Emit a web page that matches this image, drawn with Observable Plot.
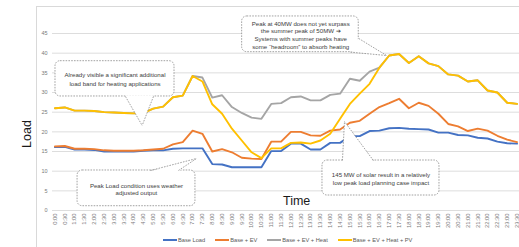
<!DOCTYPE html>
<html><head><meta charset="utf-8">
<script src="https://cdn.jsdelivr.net/npm/d3@7"></script>
<script src="https://cdn.jsdelivr.net/npm/@observablehq/plot@0.6"></script>
<style>
body{margin:0;background:#fff;font-family:"Liberation Sans",Arial,sans-serif;}
#wrap{position:relative;width:519px;height:247px;overflow:hidden;background:#fff;}
#chart{position:absolute;left:0;top:0;}
#frame{position:absolute;left:36px;top:6px;width:540px;height:300px;border:1px solid #d9d9d9;pointer-events:none;}
#legend{position:absolute;left:163px;top:234px;height:11px;display:flex;gap:10px;align-items:center;font-size:5.7px;color:#595959;white-space:nowrap;}
#legend .item{display:flex;align-items:center;}
#legend .sw{width:14px;height:2px;margin-right:1px;}
</style></head><body>
<div id="wrap"><div id="chart"></div><div id="legend"></div><div id="frame"></div></div>
<script>
// ---- data ----
const times = ["0:00","0:30","1:00","1:30","2:00","2:30","3:00","3:30","4:00","4:30","5:00","5:30",
  "6:00","6:30","7:00","7:30","8:00","8:30","9:00","9:30","10:00","10:30","11:00","11:30",
  "12:00","12:30","13:00","13:30","14:00","14:30","15:00","15:30","16:00","16:30","17:00","17:30",
  "18:00","18:30","19:00","19:30","20:00","20:30","21:00","21:30","22:00","22:30","23:00","23:30"];
const seriesNames = ["Base Load","Base + EV","Base + EV + Heat","Base + EV + Heat + PV"];
const baseLoad = [16.1,16.2,15.5,15.5,15.4,15.0,15.0,15.0,15.0,15.2,15.3,15.3,15.7,15.8,15.8,15.8,11.8,11.7,11.0,11.0,11.0,11.0,15.1,15.1,17.0,17.0,15.5,15.5,17.2,17.2,18.9,18.9,20.2,20.3,20.9,21.0,20.8,20.7,20.6,19.8,19.8,19.2,19.1,18.5,18.3,17.5,17.1,17.0];
const baseEV = [16.3,16.4,15.7,15.7,15.6,15.3,15.2,15.2,15.2,15.3,15.5,15.7,16.8,17.4,20.3,19.5,15.0,15.6,14.8,13.4,13.2,13.1,17.5,17.5,20.0,20.0,19.1,19.0,20.3,20.6,22.3,22.8,24.6,26.3,27.3,28.4,26.0,27.4,26.6,24.6,22.0,21.4,20.2,20.8,20.3,19.0,18.0,17.4];
const baseEVHeat = [26.0,26.2,25.4,25.4,25.3,25.0,24.9,24.8,24.7,24.8,25.9,26.4,28.8,29.2,34.2,33.8,28.7,29.3,26.3,24.8,23.6,23.3,27.1,27.3,28.8,29.0,28.0,28.0,29.4,29.7,33.5,33.0,35.3,36.3,39.4,39.8,37.5,39.2,37.4,36.7,34.6,34.3,32.8,33.1,30.5,30.0,27.4,27.1];
const baseEVHeatPV = [26.0,26.2,25.4,25.4,25.3,25.0,24.9,24.8,24.7,24.8,25.9,26.4,28.8,29.2,34.2,32.8,27.0,24.6,20.8,17.8,14.8,13.3,15.8,15.8,17.2,17.3,17.0,17.8,19.5,23.3,27.1,29.7,32.2,36.3,39.4,39.8,37.5,39.2,37.4,36.7,34.6,34.3,32.8,33.1,30.5,30.0,27.4,27.1];
const yTicks = [0,5,10,15,20,25,30,35,40,45];
const palette = ["#4472C4","#ED7D31","#A5A5A5","#FFC000"];

// ---- annotations (data units) ----
const notes = [
  {text:"Already visible a significant additional\nload band for heating applications",
   x1:0.055,x2:12.16,y1:28.99,y2:37.96,cx:6.11,cy:33.52,lh:1.38,
   base:[[7.17,28.99],[10.02,28.99]],fillBase:[[7.17,29.3],[10.02,29.3]],tip:[8.87,21.61]},
  {text:"Peak at 40MW does not yet surpass\nthe summer peak of 50MW \u2794\nSystems with summer peaks have\nsome \u201Cheadroom\u201D to absorb heating",
   x1:19.04,x2:30.90,y1:40.25,y2:49.33,cx:25.0,cy:44.7,lh:1.25,
   base:[[30.90,43.73],[30.06,40.25]],fillBase:[[30.80,43.73],[30.06,40.45]],tip:[33.72,39.41]},
  {text:"Peak Load condition uses weather\nadjusted output",
   x1:2.30,x2:14.29,y1:1.09,y2:10.17,cx:8.29,cy:5.47,lh:1.3,
   base:[[9.71,10.17],[12.56,10.17]],fillBase:[[9.71,9.9],[12.56,9.9]],tip:[14.40,13.22]},
  {text:"145 MW of solar result in a relatively\nlow peak load planning case impact",
   x1:27.21,x2:39.11,y1:3.81,y2:12.71,cx:33.16,cy:8.26,lh:1.38,
   base:[[29.24,12.71],[32.39,12.71]],fillBase:[[29.24,12.45],[32.39,12.45]],tip:[29.45,22.63]}
];

const values = [baseLoad, baseEV, baseEVHeat, baseEVHeatPV];
const rows = [];
seriesNames.forEach((s, k) => values[k].forEach((v, i) => rows.push({s, i, v})));

const dash = {stroke:"#8a8a8a", strokeWidth:0.8, strokeDasharray:"1.6,1.2"};
const noteMarks = [];
for (const n of notes) {
  noteMarks.push(Plot.rect([n], {x1:"x1", x2:"x2", y1:"y1", y2:"y2", fill:"white", rx:5, ...dash}));
  const poly = [n.fillBase[0], n.tip, n.fillBase[1]];
  noteMarks.push(Plot.line(poly, {x:d=>d[0], y:d=>d[1], fill:"white", stroke:"none"}));
  noteMarks.push(Plot.link(n.base, {x1:d=>d[0], y1:d=>d[1], x2:()=>n.tip[0], y2:()=>n.tip[1], ...dash}));
  noteMarks.push(Plot.text([n], {x:"cx", y:"cy", text:"text", fontSize:6.1, fill:"#404040",
    lineHeight:n.lh, lineAnchor:"middle", textAnchor:"middle"}));
}

const chart = Plot.plot({
  width: 519, height: 231,
  marginLeft: 52, marginRight: 0, marginTop: 13.33, marginBottom: 21,
  x: {type:"linear", domain:[-0.25, 47.25], label:null},
  y: {domain:[0, 50], label:null},
  color: {domain: seriesNames, range: palette},
  style: {fontFamily:"'Liberation Sans', Arial, sans-serif", background:"transparent", overflow:"visible"},
  marks: [
    Plot.gridY(yTicks, {stroke:"#d9d9d9", strokeOpacity:1, strokeWidth:0.9}),
    Plot.axisY(yTicks, {tickSize:0, tickPadding:5, fontSize:5.5, fill:"#7a7a7a", label:null}),
    Plot.axisX(d3.range(times.length), {tickSize:0, tickPadding:3, tickRotate:-90,
      tickFormat:i=>times[i], fontSize:5.8, fill:"#7a7a7a", label:null}),
    Plot.lineY(rows, {x:"i", y:"v", z:"s", stroke:"s", strokeWidth:1.9, strokeLinejoin:"round"}),
    ...noteMarks,
    Plot.text(["Time"], {x:()=>24.58, y:()=>2.42, text:d=>d, fontSize:12.5, fill:"#1a1a1a", lineAnchor:"middle"}),
    Plot.text(["Load"], {x:()=>-2.89, y:()=>19.45, text:d=>d, fontSize:12.5, fill:"#1a1a1a", rotate:-90, lineAnchor:"middle"})
  ]
});
document.getElementById("chart").appendChild(chart);

const legend = document.getElementById("legend");
seriesNames.forEach((s, k) => {
  const it = document.createElement("div"); it.className = "item";
  const sw = document.createElement("div"); sw.className = "sw"; sw.style.background = palette[k];
  const t = document.createElement("span"); t.textContent = s;
  it.appendChild(sw); it.appendChild(t); legend.appendChild(it);
});
</script>
</body></html>
